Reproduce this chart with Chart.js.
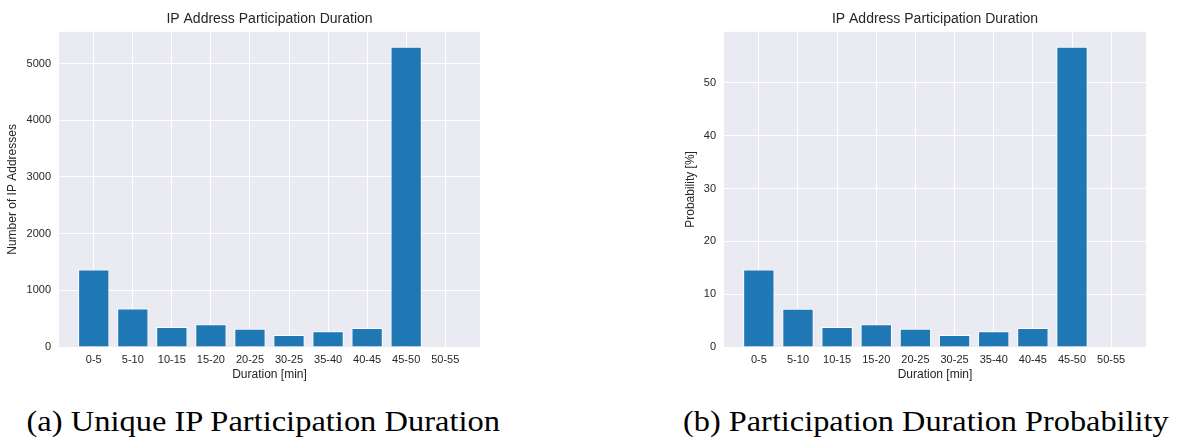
<!DOCTYPE html>
<html>
<head>
<meta charset="utf-8">
<script src="https://cdn.jsdelivr.net/npm/chart.js@4.4.1/dist/chart.umd.min.js"></script>
<style>
    html, body { margin: 0; padding: 0; background: #ffffff; }
    body { width: 1177px; height: 439px; position: relative; overflow: hidden; }
    .chart_holder { position: absolute; top: 0; height: 390px; }
    .caption {
        position: absolute; top: 407px; white-space: nowrap;
        font-family: "Liberation Serif", "DejaVu Serif", serif; font-size: 29px; line-height: 29px;
        color: #000000; transform-origin: center top;
    }
</style>
</head>
<body>
<div class="chart_holder" id="left_holder" style="left:0px; width:490px;"><canvas id="count_chart"></canvas></div>
<div class="chart_holder" id="right_holder" style="left:670px; width:507px;"><canvas id="probability_chart"></canvas></div>
<div class="caption" id="caption_a" data-center="263" data-width="474">(a) Unique IP Participation Duration</div>
<div class="caption" id="caption_b" data-center="926" data-width="486">(b) Participation Duration Probability</div>
<script>
// data
var duration_labels = ["0-5", "5-10", "10-15", "15-20", "20-25", "30-25", "35-40", "40-45", "45-50", "50-55"];
var ip_counts = [1366, 678, 353, 400, 324, 212, 277, 336, 5294, 8];
var probabilities = [14.65, 7.26, 3.79, 4.29, 3.47, 2.27, 2.97, 3.6, 56.8, 0.09];
var count_ticks = [0, 1000, 2000, 3000, 4000, 5000];
var probability_ticks = [0, 10, 20, 30, 40, 50];

var chart_title = "IP Address Participation Duration";
var x_title = "Duration [min]";

var text_color = "#262626";
var font_family = "'Liberation Sans', Arial, sans-serif";

// seaborn style grey background behind the plot area
var plot_background = {
    id: "plot_background",
    beforeDraw: function(chart){
        var area = chart.chartArea;
        var ctx = chart.ctx;
        ctx.save();
        ctx.fillStyle = "#eaeaf2";
        ctx.fillRect(area.left, area.top, area.right - area.left, area.bottom - area.top);
        ctx.restore();
    }
};

var make_chart = function(canvas_id, values, y_ticks, y_max, y_title, y_width, y_title_pad, right_pad){
    var points = values.map(function(v, i){ return {x: i, y: v}; });
    var ctx = document.getElementById(canvas_id).getContext("2d");
    return new Chart(ctx, {
        type: "bar",
        data: {
            datasets: [{
                data: points,
                backgroundColor: "#1f77b4",
                borderColor: "#ffffff",
                borderWidth: 1,
                categoryPercentage: 1,
                barPercentage: 0.8
            }]
        },
        options: {
            responsive: true,
            maintainAspectRatio: false,
            animation: false,
            layout: { padding: { left: 0, right: right_pad, top: 0, bottom: 0 } },
            plugins: {
                legend: { display: false },
                tooltip: { enabled: false },
                title: {
                    display: true,
                    text: chart_title,
                    fullSize: false,
                    color: text_color,
                    font: { family: font_family, size: 14, weight: "normal" },
                    padding: { top: 11, bottom: 4 }
                }
            },
            scales: {
                x: {
                    type: "linear",
                    min: -0.89,
                    max: duration_labels.length - 1 + 0.89,
                    offset: false,
                    border: { display: false },
                    grid: { color: "#ffffff", lineWidth: 1, drawTicks: false, offset: false },
                    afterBuildTicks: function(scale){
                        scale.ticks = duration_labels.map(function(l, i){ return {value: i}; });
                    },
                    afterFit: function(scale){ scale.height = 43; },
                    ticks: {
                        color: text_color,
                        font: { family: font_family, size: 11 },
                        padding: 6,
                        maxRotation: 0,
                        autoSkip: false,
                        callback: function(value){ return duration_labels[value]; }
                    },
                    title: {
                        display: true,
                        text: x_title,
                        color: text_color,
                        font: { family: font_family, size: 12 },
                        padding: { top: 0, bottom: 8 }
                    }
                },
                y: {
                    type: "linear",
                    min: 0,
                    max: y_max,
                    border: { display: false },
                    grid: { color: "#ffffff", lineWidth: 1, drawTicks: false },
                    afterBuildTicks: function(scale){
                        scale.ticks = y_ticks.map(function(v){ return {value: v}; });
                    },
                    afterFit: function(scale){ scale.width = y_width; },
                    ticks: {
                        color: text_color,
                        font: { family: font_family, size: 11 },
                        padding: 8,
                        callback: function(value){ return String(value); } // no thousands separator
                    },
                    title: {
                        display: true,
                        text: y_title,
                        color: text_color,
                        font: { family: font_family, size: 12 },
                        padding: { top: y_title_pad, bottom: 0 }
                    }
                }
            }
        },
        plugins: [plot_background]
    });
};

make_chart("count_chart", ip_counts, count_ticks, 5559, "Number of IP Addresses", 59, 5.3, 10);
make_chart("probability_chart", probabilities, probability_ticks, 59.65, "Probability [%]", 54, 13.8, 31);

// fit the serif captions to the width they take in the reference
[...document.querySelectorAll(".caption")].forEach(function(element){
    var target_width = parseFloat(element.dataset.width);
    var center = parseFloat(element.dataset.center);
    var natural_width = element.offsetWidth;
    element.style.left = (center - natural_width / 2) + "px";
    element.style.transform = "scaleX(" + (target_width / natural_width) + ")";
});
</script>
</body>
</html>
